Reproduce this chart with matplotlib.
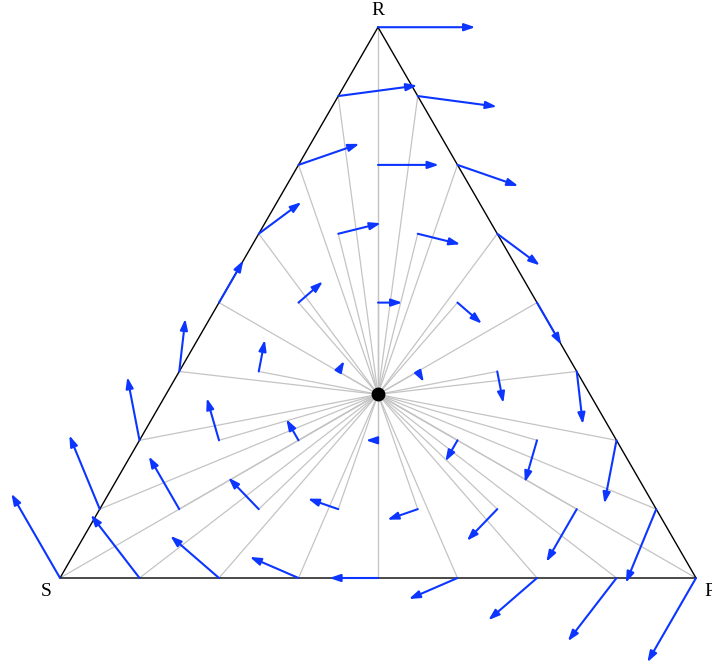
import matplotlib.pyplot as plt
import numpy as np

# rock-paper-scissors game, strategy order: R, P, S
labels = ['R', 'P', 'S']
payoff = np.array([[0, -1, 1],
                   [1, 0, -1],
                   [-1, 1, 0]])
divisions = 8          # grid points on the simplex: (i, j, k) / 8
arrow_scale = 0.153    # drawn length of the payoff vector
center = np.array([1/3, 1/3, 1/3])

h = np.sqrt(3) / 2


def to_xy(p):
    # barycentric (R, P, S) -> plane, S at (0,0), P at (1,0), R at top
    r, pp, s = p
    return pp + 0.5 * r, h * r


# grid points
points = []
for i in range(divisions + 1):
    for j in range(divisions + 1 - i):
        points.append(np.array([i, j, divisions - i - j]) / divisions)

fig = plt.figure(figsize=(7.12, 6.69), dpi=100)
ax = fig.add_axes([0, 0, 1, 1])
ax.set_xlim(-60 / 636, 652 / 636)
ax.set_ylim(-91 / 636, 578 / 636)
ax.axis('off')

cx, cy = to_xy(center)

# grey rays from the interior rest point to every grid point
for p in points:
    x, y = to_xy(p)
    ax.plot([cx, x], [cy, y], color='#c4c4c4', lw=0.9, zorder=1)

# triangle
corners = [to_xy(np.eye(3)[k]) for k in range(3)]
tx = [c[0] for c in corners] + [corners[0][0]]
ty = [c[1] for c in corners] + [corners[0][1]]
ax.plot(tx, ty, color='black', lw=1.0, zorder=2)

# payoff vectors
for p in points:
    u = payoff @ p
    u = u - u.mean()
    x0, y0 = to_xy(p)
    dx, dy = to_xy(u)
    if np.hypot(dx, dy) < 1e-9:
        continue
    ax.annotate('', xy=(x0 + arrow_scale * dx, y0 + arrow_scale * dy),
                xytext=(x0, y0),
                arrowprops=dict(arrowstyle='-|>,head_length=0.5,head_width=0.17',
                                mutation_scale=13, color='#0c36ff', lw=1.5,
                                shrinkA=0, shrinkB=0),
                zorder=3)

ax.plot([cx], [cy], 'o', color='black', markersize=9, zorder=4)

# vertex labels
rx, ry = corners[0]
ax.text(rx, ry + 17 / 636, 'R', ha='center', va='center',
        family='Liberation Serif', fontsize=14)
sx, sy = corners[2]
ax.text(sx - 14 / 636, sy - 13 / 636, 'S', ha='center', va='center',
        family='Liberation Serif', fontsize=14)
px, py = corners[1]
ax.text(px + 14 / 636, py - 13 / 636, 'P', ha='center', va='center',
        family='Liberation Serif', fontsize=14)

fig.savefig('out.png', dpi=100)
